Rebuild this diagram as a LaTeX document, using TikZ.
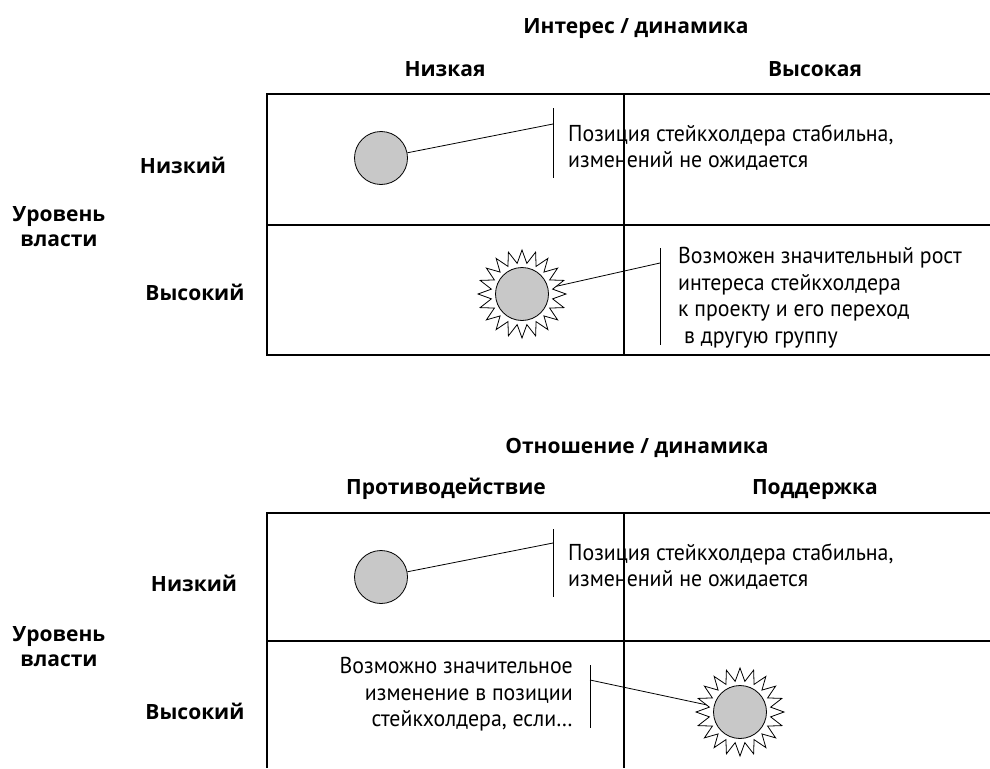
\documentclass[tikz,border=0pt]{standalone}
\usepackage{fontspec}
\setmainfont{PT Sans}[FakeStretch=0.95]
\newfontfamily\headfont{Open Sans}
\usetikzlibrary{calc,positioning}
\definecolor{dotgray}{RGB}{200,200,200}
\tikzset{
  head/.style={font=\headfont\bfseries\fontsize{21}{25}\selectfont, align=center, anchor=base},
  side/.style={font=\headfont\bfseries\fontsize{21}{25}\selectfont, align=center},
  note/.style={font=\fontsize{23}{26.5}\selectfont, inner sep=0pt},
  dot/.style={circle, draw, fill=dotgray, minimum size=53pt, inner sep=0pt, line width=0.8pt},
  grid/.style={line width=1.1pt},
  bar/.style={line width=0.9pt},
  lead/.style={line width=0.8pt}
}
\newcommand{\drawsun}[1]{%
  \draw[fill=white, line width=0.8pt] ($(#1)+(0:44pt)$)
    \foreach \k in {1,...,20} {-- ($(#1)+(\k*18-9:31pt)$) -- ($(#1)+(\k*18:44pt)$)} -- cycle;
  \node[dot] (#1dot) at (#1) {};}

\begin{document}
\begin{tikzpicture}[x=1pt,y=-1pt]
\useasboundingbox (0,0) rectangle (990,768);

% upper matrix
\node[head] (interest) at (636,34) {Интерес / динамика};
\node[head] (low) at (445,77) {Низкая};
\node[head] (high) at (815,77) {Высокая};
\node[side] (powerA) at (59,227) {Уровень\\власти};
\node[head] (rowlowA) at (183,173) {Низкий};
\node[head] (rowhighA) at (195,300) {Высокий};

\draw[grid] (990,94) -- (267,94) -- (267,355) -- (990,355);
\draw[grid] (267,225) -- (990,225);
\draw[grid] (624,94) -- (624,355);

\node[dot] (c1) at (381,158) {};
\draw[bar] (553,108) -- (553,178);
\coordinate (b1) at (553,124);
\draw[lead] (c1) -- (b1);
\node[note, anchor=west, align=left] (t1) at (568,147.5)
  {Позиция стейкхолдера стабильна,\\изменений не ожидается};

\coordinate (s1) at (522,294);
\coordinate (b2) at (660,263);
\draw[bar] (660,248) -- (660,345);
\draw[lead] (b2) -- (s1);
\drawsun{s1}
\node[note, anchor=west, align=left] (t2) at (678,297.5)
  {Возможен значительный рост\\интереса стейкхолдера\\к проекту и его переход\\\hspace{6pt}в другую группу};

% lower matrix
\node[head] (attitude) at (637,453) {Отношение / динамика};
\node[head] (oppose) at (446,494) {Противодействие};
\node[head] (support) at (815,494) {Поддержка};
\node[side] (powerB) at (59,647) {Уровень\\власти};
\node[head] (rowlowB) at (194,591) {Низкий};
\node[head] (rowhighB) at (195,719) {Высокий};

\draw[grid] (990,513) -- (267,513) -- (267,768);
\draw[grid] (267,641) -- (990,641);
\draw[grid] (624,513) -- (624,768);

\node[dot] (c2) at (381,577) {};
\draw[bar] (553,529) -- (553,597);
\coordinate (b3) at (553,543);
\draw[lead] (c2) -- (b3);
\node[note, anchor=west, align=left] (t3) at (568,566.5)
  {Позиция стейкхолдера стабильна,\\изменений не ожидается};

\coordinate (s2) at (740,712);
\coordinate (b4) at (590,680);
\draw[bar] (590,665) -- (590,728);
\draw[lead] (b4) -- (s2);
\drawsun{s2}
\node[note, anchor=east, align=right] (t4) at (573,694.5)
  {Возможно значительное\\изменение в позиции\\стейкхолдера, если…};
\end{tikzpicture}
\end{document}
